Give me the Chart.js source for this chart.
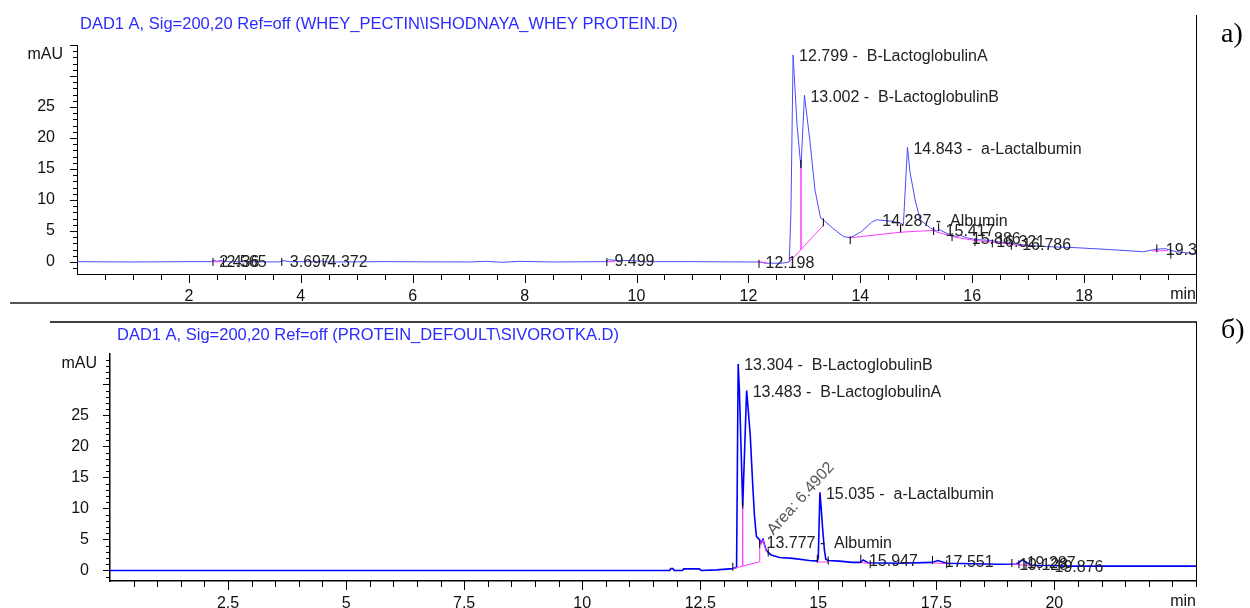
<!DOCTYPE html>
<html lang="en">
<head>
<meta charset="utf-8">
<title>DAD1 A chromatograms</title>
<script src="https://cdn.jsdelivr.net/npm/chart.js@4.4.1/dist/chart.umd.min.js"></script>
<style>
  html, body { margin: 0; padding: 0; background: #fff; }
  body { width: 1250px; height: 608px; position: relative; overflow: hidden; }
  canvas { position: absolute; left: 0; }
  #chartA { top: 0; }
  #chartB { top: 304px; }
  .tag { position: absolute; left: 1221px; font-family: "Liberation Serif", "Times New Roman", serif;
         font-size: 28px; line-height: 1; color: #000; }
</style>
</head>
<body>
<canvas id="chartA" width="1250" height="304"></canvas>
<canvas id="chartB" width="1250" height="304"></canvas>
<div class="tag" style="top:19px">a)</div>
<div class="tag" style="top:315px">б)</div>
<script>
const FONT = '"Liberation Sans", Arial, sans-serif';

// ---------- (a) WHEY_PECTIN\ISHODNAYA_WHEY PROTEIN.D ----------
const titleA = 'DAD1 A, Sig=200,20 Ref=off (WHEY_PECTIN\\ISHODNAYA_WHEY PROTEIN.D)';
const timeA = [
  0, 1.0, 2.0, 2.40, 2.45, 2.50, 2.57, 2.65, 3.60, 3.70,
  3.80, 4.30, 4.37, 4.45, 5.5, 7.0, 7.3, 7.6, 7.9, 8.5,
  9.45, 9.50, 9.70, 9.90, 10.10, 11.0, 12.0, 12.20, 12.30, 12.60,
  12.73, 12.76, 12.799, 12.87, 12.94, 13.002, 13.10, 13.19, 13.29, 13.34,
  13.50, 13.70, 13.82, 14.02, 14.20, 14.287, 14.53, 14.71, 14.77, 14.843,
  14.89, 14.98, 15.07, 15.25, 15.36, 15.417, 15.55, 15.72, 15.79, 15.90,
  16.07, 16.32, 16.43, 16.79, 16.85, 17.27, 17.86, 18.46, 19.06, 19.29,
  19.45, 19.65, 20.0
];
const signalA = [
  0.05, 0.0, 0.05, 0.05, 0.3, 0.1, 0.25, 0.05, 0.0, 0.2,
  0.05, 0.05, 0.15, 0.0, 0.05, 0.0, 0.1, -0.05, 0.1, 0.0,
  0.05, 0.35, 0.2, 0.25, 0.05, 0.05, 0.0, 0.0, -0.2, -0.2,
  0.0, 8.0, 33.4, 22.0, 15.2, 26.9, 19.5, 11.6, 7.1, 6.8,
  5.5, 4.1, 3.9, 4.9, 6.4, 6.8, 6.6, 6.3, 6.0, 18.5,
  14.4, 10.0, 6.8, 5.5, 5.0, 5.2, 4.6, 4.1, 4.3, 3.9,
  3.6, 3.5, 3.3, 2.9, 2.8, 2.5, 2.3, 2.0, 1.65, 2.05,
  2.15, 1.65, 1.3
];
// integration baselines and drop lines (null breaks the line)
const baseTimeA = [
  2.43, 2.62, 2.62,
  9.47, 9.62, 9.62,
  12.19, 12.33, 12.33,
  12.73, 12.94, 12.94, 12.94, 13.34, 13.34,
  13.82, 14.72, 14.72, 14.72, 15.31, 15.36, 15.72, 16.07, 16.43, 16.85, 17.05, 17.05,
  19.22, 19.50
];
const baseA = [
  0.05, 0.05, null,
  0.05, 0.05, null,
  0.0, -0.1, null,
  0.0, 2.0, 15.2, 2.0, 5.9, null,
  3.9, 4.8, 6.3, 4.8, 5.1, 4.85, 3.95, 3.45, 3.15, 2.65, 2.5, null,
  1.75, 1.85
];
const eventTimeA = [2.43, 2.62, 3.66, 4.40, 9.47, 12.19, 12.94, 13.34, 13.82, 14.72,
                    15.31, 15.40, 15.64, 16.05, 16.36, 16.70, 19.30, 19.55];
const eventLevelA = [0.0, 0.0, 0.0, 0.0, 0.0, -0.3, 15.8, 6.4, 3.5, 5.4,
                     5.0, 5.6, 4.0, 3.2, 3.0, 2.6, 2.2, 1.2];
const peakTimeA = [2.436, 2.565, 3.697, 4.372, 9.499, 12.198, 12.799, 13.002, 14.287, 14.843,
                   15.417, 15.886, 16.321, 16.786, 19.352];
const peakNameA = ['', '', '', '', '', '', 'B-LactoglobulinA', 'B-LactoglobulinB', 'Albumin', 'a-Lactalbumin',
                   '', '', '', '', ''];
const xLabelsA = [2, 4, 6, 8, 10, 12, 14, 16, 18];

// ---------- (b) PROTEIN_DEFOULT\SIVOROTKA.D ----------
const titleB = 'DAD1 A, Sig=200,20 Ref=off (PROTEIN_DEFOULT\\SIVOROTKA.D)';
const timeB = [
  0, 11.85, 11.88, 11.92, 11.95, 12.12, 12.15, 12.48, 12.52, 12.85,
  13.19, 13.27, 13.304, 13.33, 13.40, 13.483, 13.52, 13.56, 13.61, 13.65,
  13.69, 13.76, 13.79, 13.83, 13.90, 14.0, 14.18, 14.46, 14.81, 14.98,
  15.00, 15.035, 15.06, 15.09, 15.13, 15.16, 15.21, 15.45, 15.72, 15.90,
  15.95, 16.05, 16.72, 17.42, 17.53, 17.72, 18.83, 19.20, 19.33, 19.50,
  20.0, 20.24, 23.0
];
const signalB = [
  0, 0, 0.3, 0.3, 0, 0, 0.25, 0.25, 0, 0.1,
  0.3, 0.5, 33.3, 29.0, 10.4, 29.0, 25.6, 21.7, 14.1, 8.7,
  5.5, 4.9, 4.4, 5.0, 3.2, 2.5, 2.1, 1.95, 1.6, 1.5,
  2.0, 12.6, 10.3, 7.0, 3.3, 1.8, 1.6, 1.5, 1.3, 1.3,
  1.7, 1.25, 1.15, 1.3, 1.6, 1.15, 1.0, 1.05, 1.7, 0.85,
  0.8, 0.7, 0.7
];
const baseTimeB = [
  13.19, 13.40, 13.40, 13.40, 13.76, 13.76, 13.79, 13.83, 13.90, 13.94, 13.94,
  14.98, 15.21, 15.21,
  15.90, 16.10, 16.10,
  17.42, 17.72, 17.72,
  19.10, 19.50
];
const baseB = [
  0.3, 0.7, 10.4, 0.7, 1.4, 4.9, 4.3, 4.9, 3.1, 2.7, null,
  1.35, 1.35, null,
  1.25, 1.15, null,
  1.2, 1.1, null,
  1.0, 0.8
];
const eventTimeB = [13.19, 13.40, 13.76, 13.94, 14.98, 15.21, 15.90, 16.10, 17.42, 17.72, 19.10, 19.25, 19.40];
const eventLevelB = [0.6, 10.6, 4.3, 2.9, 1.9, 1.6, 1.9, 1.0, 1.7, 1.0, 1.2, 1.0, 0.8];
const peakTimeB = [13.304, 13.483, 13.777, 15.035, 15.947, 17.551, 19.128, 19.287, 19.876];
const peakNameB = ['B-LactoglobulinB', 'B-LactoglobulinA', 'Albumin', 'a-Lactalbumin', '', '', '', '', ''];
const areaNoteB = { time: 14.05, value: 5.6, text: 'Area: 6.4902' };
const xLabelsB = [2.5, 5, 7.5, 10, 12.5, 15, 17.5, 20];

const yLabels = [0, 5, 10, 15, 20, 25];

function points(ts, vs) { return ts.map((t, i) => ({ x: t, y: vs[i] })); }

function interp(ts, vs, t) {
  for (let i = 1; i < ts.length; i++) {
    if (t <= ts[i]) {
      const f = (t - ts[i - 1]) / (ts[i] - ts[i - 1]);
      return vs[i - 1] + f * (vs[i] - vs[i - 1]);
    }
  }
  return vs[vs.length - 1];
}

// axis tick marks, frame, titles and peak annotations
const decor = {
  id: 'decor',
  afterDraw(chart, args, o) {
    const { ctx, chartArea: a, scales: { x, y } } = chart;
    ctx.save();

    // frame lines
    ctx.strokeStyle = '#000';
    ctx.lineWidth = 1;
    ctx.beginPath();
    ctx.moveTo(1196.5, o.frameTop); ctx.lineTo(1196.5, o.frameBottom);
    ctx.stroke();
    if (o.sepY) {
      ctx.strokeStyle = '#555'; ctx.lineWidth = 2;
      ctx.beginPath(); ctx.moveTo(10, o.sepY); ctx.lineTo(1197, o.sepY); ctx.stroke();
    }
    if (o.topLineY) {
      ctx.strokeStyle = '#000'; ctx.lineWidth = 1.5;
      ctx.beginPath(); ctx.moveTo(50, o.topLineY); ctx.lineTo(1197, o.topLineY); ctx.stroke();
    }

    // axis tick marks
    ctx.strokeStyle = '#000'; ctx.lineWidth = 1;
    ctx.beginPath();
    const n = Math.round((o.xMax - o.xMin) / o.xStep);
    for (let i = 1; i <= n; i++) {
      const v = o.xMin + i * o.xStep;
      const px = Math.round(x.getPixelForValue(v)) + 0.5;
      const major = o.xLabels.some(l => Math.abs(l - v) < 1e-6);
      ctx.moveTo(px, a.bottom); ctx.lineTo(px, a.bottom + (major ? 9 : 6));
    }
    for (let v = Math.ceil(o.yMin); v <= o.yMax; v++) {
      const py = Math.round(y.getPixelForValue(v)) + 0.5;
      const major = v % 5 === 0;
      ctx.moveTo(a.left, py); ctx.lineTo(a.left - (major ? 7 : 4), py);
    }
    ctx.stroke();

    // title, unit labels
    ctx.textBaseline = 'middle';
    ctx.textAlign = 'left';
    ctx.fillStyle = '#2b2bff';
    ctx.font = '16.5px ' + FONT;
    ctx.fillText(o.title, o.titleX, o.titleY);
    ctx.fillStyle = '#111';
    ctx.font = '16px ' + FONT;
    ctx.textAlign = 'right';
    ctx.fillText('mAU', a.left - o.yPad, a.top + 10);
    ctx.fillText('min', a.right, a.bottom + 21);

    // peak labels
    ctx.save();
    ctx.beginPath();
    ctx.rect(a.left, a.top - 30, a.right - a.left, a.bottom - a.top + 30);
    ctx.clip();
    ctx.fillStyle = '#222';
    ctx.textAlign = 'left';
    ctx.textBaseline = 'middle';
    o.peakTime.forEach((t, i) => {
      const v = interp(o.time, o.signal, t);
      const text = o.peakName[i] ? t.toFixed(3) + ' -  ' + o.peakName[i] : t.toFixed(3);
      ctx.fillText(text, x.getPixelForValue(t) + 6, y.getPixelForValue(v) + 2);
    });
    if (o.area) {
      ctx.save();
      ctx.translate(x.getPixelForValue(o.area.time), y.getPixelForValue(o.area.value));
      ctx.rotate(-48 * Math.PI / 180);
      ctx.fillStyle = '#555';
      ctx.textBaseline = 'alphabetic';
      ctx.fillText(o.area.text, 0, 0);
      ctx.restore();
    }
    ctx.restore();
    ctx.restore();
  }
};

function makeChart(id, c) {
  return new Chart(document.getElementById(id), {
    type: 'line',
    data: {
      datasets: [
        { data: points(c.time, c.signal), borderColor: c.color, borderWidth: c.width,
          pointRadius: 0, tension: 0, order: 2 },
        { data: points(c.baseTime, c.base), borderColor: '#ff3cff', borderWidth: 1,
          pointRadius: 0, tension: 0, spanGaps: false, order: 1 },
        { data: points(c.eventTime, c.eventLevel), showLine: false, pointStyle: 'line',
          pointRotation: 90, pointRadius: 4, pointBorderColor: '#000', pointBorderWidth: 1, order: 0 }
      ]
    },
    options: {
      responsive: false, animation: false, devicePixelRatio: 1, events: [],
      layout: { padding: { left: 0, top: c.areaTop, right: 1250 - c.areaRight, bottom: 0 } },
      plugins: { legend: { display: false }, tooltip: { enabled: false }, decor: c },
      scales: {
        x: {
          type: 'linear', min: c.xMin, max: c.xMax,
          grid: { display: false },
          border: { display: true, color: '#000', width: c.axisWidth },
          afterBuildTicks: s => { s.ticks = c.xLabels.map(v => ({ value: v })); },
          afterFit: s => { s.height = 304 - c.areaBottom; },
          ticks: { font: { family: FONT, size: 16 }, color: '#111', padding: c.xPad,
                   maxRotation: 0, autoSkip: false, callback: v => String(v) }
        },
        y: {
          type: 'linear', min: c.yMin, max: c.yMax,
          grid: { display: false },
          border: { display: true, color: '#000', width: c.axisWidth },
          afterBuildTicks: s => { s.ticks = yLabels.map(v => ({ value: v })); },
          afterFit: s => { s.width = c.areaLeft; },
          ticks: { font: { family: FONT, size: 16 }, color: '#111', padding: c.yPad,
                   autoSkip: false, callback: v => String(v) }
        }
      }
    },
    plugins: [decor]
  });
}

makeChart('chartA', {
  time: timeA, signal: signalA, baseTime: baseTimeA, base: baseA,
  eventTime: eventTimeA, eventLevel: eventLevelA,
  peakTime: peakTimeA, peakName: peakNameA, xLabels: xLabelsA,
  title: titleA, titleX: 80, titleY: 24,
  color: '#4b4bff', width: 1, axisWidth: 1,
  xMin: 0, xMax: 20, xStep: 0.5, yMin: -1.94, yMax: 35,
  areaLeft: 77, areaRight: 1196, areaTop: 45, areaBottom: 274,
  xPad: 5, yPad: 14,
  frameTop: 15, frameBottom: 304, sepY: 303
});

makeChart('chartB', {
  time: timeB, signal: signalB, baseTime: baseTimeB, base: baseB,
  eventTime: eventTimeB, eventLevel: eventLevelB,
  peakTime: peakTimeB, peakName: peakNameB, xLabels: xLabelsB, area: areaNoteB,
  title: titleB, titleX: 117, titleY: 31,
  color: '#0000ff', width: 1.6, axisWidth: 1.5,
  xMin: 0, xMax: 23, xStep: 0.5, yMin: -1.7, yMax: 34.9,
  areaLeft: 110, areaRight: 1196, areaTop: 50, areaBottom: 277,
  xPad: 5, yPad: 13,
  frameTop: 18, frameBottom: 277, topLineY: 18
});
</script>
</body>
</html>
